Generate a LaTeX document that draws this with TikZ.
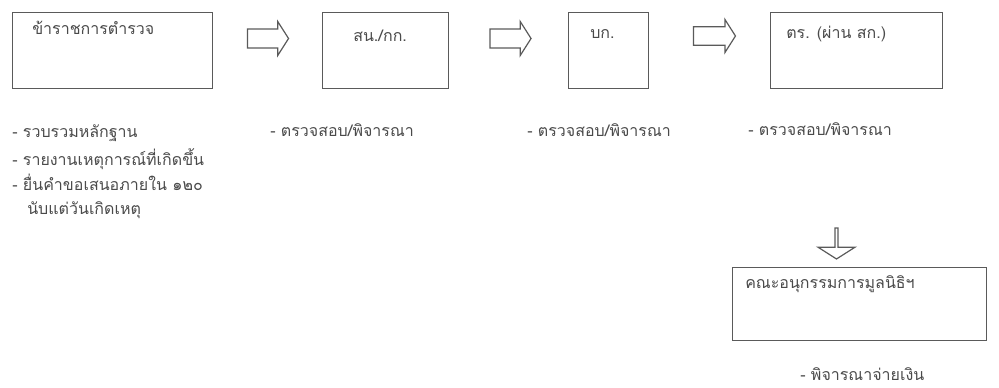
\documentclass[tikz,border=0pt]{standalone}
\usepackage{fontspec}
\newfontfamily\thaifont[Script=Thai]{Loma}
\usetikzlibrary{shapes.arrows}
\definecolor{inkc}{HTML}{4A4A4A}
\definecolor{linec}{HTML}{5A5A5A}
\tikzset{
  x=0.75pt, y=-0.75pt,
  box/.style={draw=linec, line width=1.1pt, anchor=north west, inner sep=0pt, fill=white},
  txt/.style={text=inkc, anchor=base west, inner sep=0pt, font=\thaifont\fontsize{12}{14}\selectfont},
  blk/.style={single arrow, draw=linec, line width=0.9pt, inner sep=0pt, inner ysep=6pt,
    single arrow tip angle=115, single arrow head extend=5pt, anchor=center}
}
\begin{document}
\begin{tikzpicture}
\useasboundingbox (0,0) rectangle (999,388);
% boxes
\node[box, minimum width=200*0.75pt, minimum height=76*0.75pt] (b1) at (12,12) {};
\node[box, minimum width=126*0.75pt, minimum height=76*0.75pt] (b2) at (322,12) {};
\node[box, minimum width=80*0.75pt, minimum height=76*0.75pt] (b3) at (568,12) {};
\node[box, minimum width=172*0.75pt, minimum height=76*0.75pt] (b4) at (770,12) {};
\node[box, minimum width=254*0.75pt, minimum height=73*0.75pt] (b5) at (732,267) {};
% box texts
\node[txt] (t1) at (32,35) {ข้าราชการตำรวจ};
\node[txt] (t2) at (353,42) {สน./กก.};
\node[txt] (t3) at (590,39) {บก.};
\node[txt] (t4) at (786,39) {ตร. (ผ่าน สก.)};
\node[txt] (t5) at (745,288) {คณะอนุกรรมการมูลนิธิฯ};
% block arrows
\node[blk, minimum height=41*0.75pt, minimum width=34*0.75pt] (a1) at (265,38.5) {};
\node[blk, minimum height=41*0.75pt, minimum width=34*0.75pt] (a2) at (507.5,38.5) {};
\node[blk, minimum height=42*0.75pt, minimum width=33*0.75pt] (a3) at (711.5,36) {};
\node[blk, shape border rotate=270, minimum height=31*0.75pt, minimum width=37*0.75pt] (a4) at (836.5,243) {};
% labels
\node[txt] (l1) at (12,138) {- รวบรวมหลักฐาน};
\node[txt] (l2) at (12,166) {- รายงานเหตุการณ์ที่เกิดขึ้น};
\node[txt] (l3) at (12,191) {- ยื่นคำขอเสนอภายใน ๑๒๐};
\node[txt] (l4) at (27,215) {นับแต่วันเกิดเหตุ};
\node[txt] (l5) at (270,137) {- ตรวจสอบ/พิจารณา};
\node[txt] (l6) at (527,137) {- ตรวจสอบ/พิจารณา};
\node[txt] (l7) at (748,136) {- ตรวจสอบ/พิจารณา};
\node[txt] (l8) at (800,380) {- พิจารณาจ่ายเงิน};
\end{tikzpicture}
\end{document}
